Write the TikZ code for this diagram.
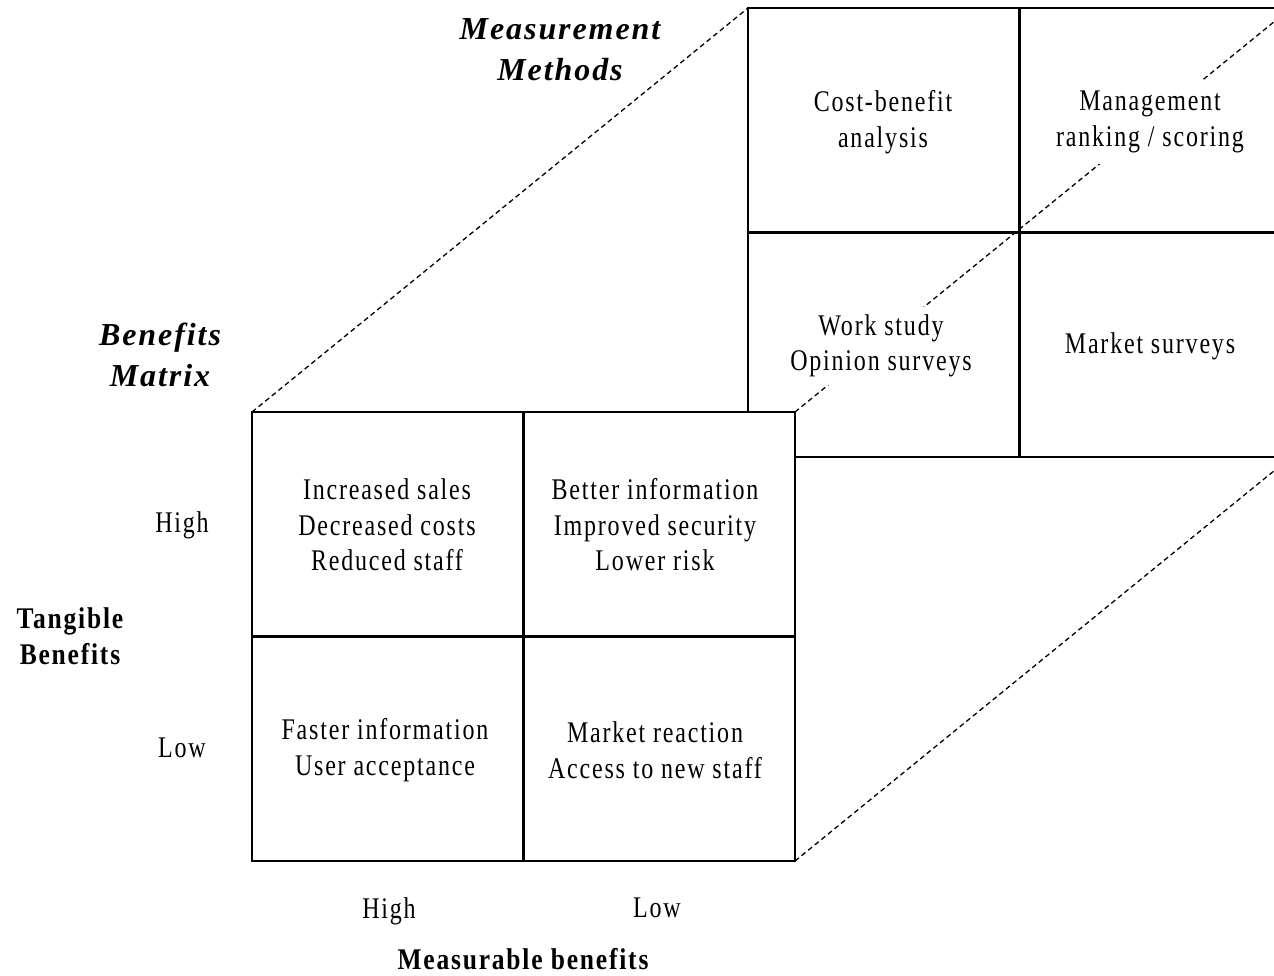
\documentclass[tikz,border=0pt]{standalone}
\usepackage{fontspec}
\setmainfont{Liberation Serif}[FakeStretch=0.8, LetterSpace=6,
  BoldFeatures={FakeStretch=0.85}, BoldItalicFeatures={FakeStretch=1}]
\begin{document}
\begin{tikzpicture}[x=1pt, y=-1pt,
  grid/.style={draw, line width=2.4pt, inner sep=0pt, outer sep=0pt,
    minimum width=543pt, minimum height=449pt},
  gridline/.style={line width=2.4pt},
  guide/.style={line width=1.3pt, dash pattern=on 5pt off 3.5pt},
  cell/.style={align=center, fill=white, inner sep=8pt,
    font=\fontsize{30}{35.5}\selectfont},
  level/.style={font=\fontsize{30}{36}\selectfont, inner sep=0pt},
  axis/.style={align=center, inner sep=0pt,
    font=\fontsize{30}{36}\selectfont\bfseries},
  title/.style={align=center, inner sep=0pt,
    font=\fontsize{32}{41}\selectfont\bfseries\itshape}]
\useasboundingbox (0,0) rectangle (1274,975);
\clip (0,0) rectangle (1274,975);

% measurement methods grid (behind)
\node[grid] (back) at (1019.5,232.5) {};
\draw[gridline] (back.north) -- (back.south);
\draw[gridline] (back.west) -- (back.east);

% benefits matrix grid (front)
\node[grid, fill=white] (front) at (523.5,636.5) {};
\draw[gridline] (front.north) -- (front.south);
\draw[gridline] (front.west) -- (front.east);

% projection lines between the two grids
\draw[guide] (front.north west) -- (back.north west);
\draw[guide] (front.north east) -- (back.north east);
\draw[guide] (front.south east) -- (back.south east);

% measurement methods cells
\node[cell] (cba) at (883,122) {Cost-benefit\\analysis};
\node[cell, inner ysep=11pt] (mrs) at (1150,122) {Management\\ranking / scoring};
\node[cell] (wso) at (881,346) {Work study\\Opinion surveys};
\node[cell] (ms)  at (1150,346) {Market surveys};

% benefits matrix cells
\node[cell] (hh) at (387,525) {Increased sales\\Decreased costs\\Reduced staff};
\node[cell] (hl) at (655,525) {Better information\\Improved security\\Lower risk};
\node[cell] (lh) at (385,750) {Faster information\\User acceptance};
\node[cell] (ll) at (655,750) {Market reaction\\Access to new staff};

% titles
\node[title] (mm) at (560,50) {Measurement\\Methods};
\node[title] (bm) at (160,355) {Benefits\\Matrix};

% axes
\node[axis] (tb) at (70,636) {Tangible\\Benefits};
\node[level] (th) at (182,525) {High};
\node[level] (tl) at (182,748) {Low};
\node[level] (mh) at (389,911) {High};
\node[level] (ml) at (657,908) {Low};
\node[axis, anchor=base] (mb) at (523,969) {Measurable benefits};
\end{tikzpicture}
\end{document}
